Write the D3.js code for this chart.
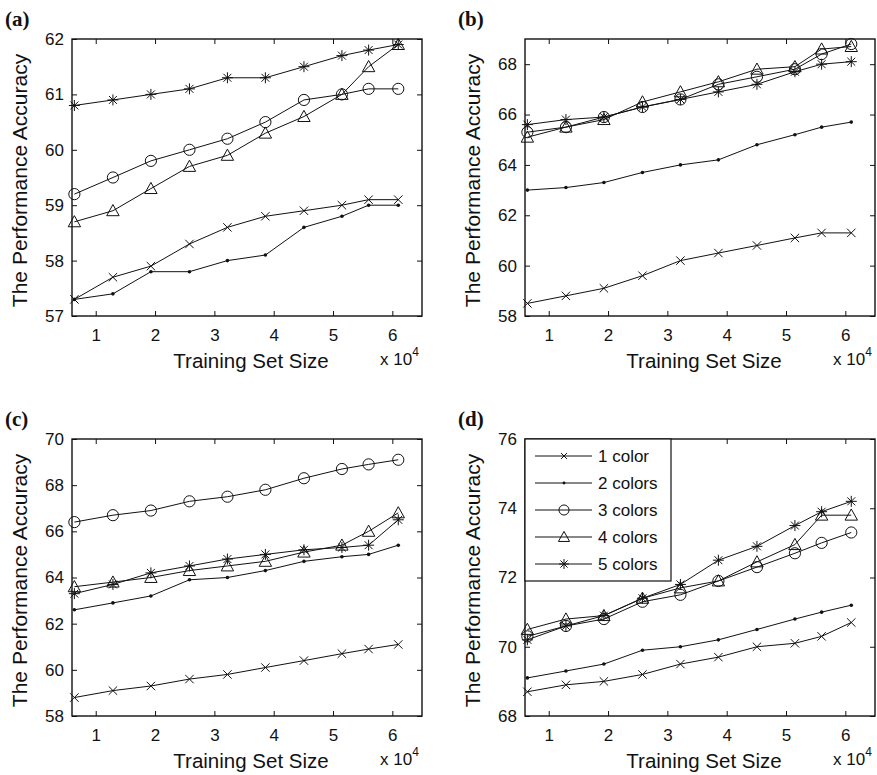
<!DOCTYPE html>
<html>
<head>
<meta charset="utf-8">
<script src="https://cdn.jsdelivr.net/npm/d3@7"></script>
<style>
  html, body { margin: 0; padding: 0; background: #fff; }
  svg { display: block; }
  text { font-family: "Liberation Sans", Arial, Helvetica, sans-serif; fill: #111; }
  .panel-label { font-family: "Liberation Serif", "Times New Roman", serif; font-weight: bold; font-size: 21px; }
</style>
</head>
<body>
<svg id="chart" width="877" height="775"></svg>
<script>
// Training set sizes (x 10^4)
const trainSizes = [0.64, 1.29, 1.93, 2.58, 3.22, 3.86, 4.51, 5.15, 5.6, 6.1];
const xTicks = [1, 2, 3, 4, 5, 6];
const seriesNames = ["1 color", "2 colors", "3 colors", "4 colors", "5 colors"];
const seriesMarkers = ["x", "dot", "circle", "triangle", "star"];

// (a)
const accA1 = [57.3, 57.7, 57.9, 58.3, 58.6, 58.8, 58.9, 59.0, 59.1, 59.1];
const accA2 = [57.3, 57.4, 57.8, 57.8, 58.0, 58.1, 58.6, 58.8, 59.0, 59.0];
const accA3 = [59.2, 59.5, 59.8, 60.0, 60.2, 60.5, 60.9, 61.0, 61.1, 61.1];
const accA4 = [58.7, 58.9, 59.3, 59.7, 59.9, 60.3, 60.6, 61.0, 61.5, 61.9];
const accA5 = [60.8, 60.9, 61.0, 61.1, 61.3, 61.3, 61.5, 61.7, 61.8, 61.9];
const yTicksA = [57, 58, 59, 60, 61, 62];

// (b)
const accB1 = [58.5, 58.8, 59.1, 59.6, 60.2, 60.5, 60.8, 61.1, 61.3, 61.3];
const accB2 = [63.0, 63.1, 63.3, 63.7, 64.0, 64.2, 64.8, 65.2, 65.5, 65.7];
const accB3 = [65.3, 65.5, 65.9, 66.3, 66.6, 67.2, 67.5, 67.8, 68.4, 68.8];
const accB4 = [65.1, 65.5, 65.8, 66.5, 66.9, 67.3, 67.8, 67.9, 68.6, 68.7];
const accB5 = [65.6, 65.8, 65.9, 66.3, 66.6, 66.9, 67.2, 67.7, 68.0, 68.1];
const yTicksB = [58, 60, 62, 64, 66, 68];

// (c)
const accC1 = [58.8, 59.1, 59.3, 59.6, 59.8, 60.1, 60.4, 60.7, 60.9, 61.1];
const accC2 = [62.6, 62.9, 63.2, 63.9, 64.0, 64.3, 64.7, 64.9, 65.0, 65.4];
const accC3 = [66.4, 66.7, 66.9, 67.3, 67.5, 67.8, 68.3, 68.7, 68.9, 69.1];
const accC4 = [63.6, 63.8, 64.0, 64.3, 64.5, 64.7, 65.1, 65.4, 66.0, 66.8];
const accC5 = [63.3, 63.7, 64.2, 64.5, 64.8, 65.0, 65.2, 65.3, 65.4, 66.5];
const yTicksC = [58, 60, 62, 64, 66, 68, 70];

// (d)
const accD1 = [68.7, 68.9, 69.0, 69.2, 69.5, 69.7, 70.0, 70.1, 70.3, 70.7];
const accD2 = [69.1, 69.3, 69.5, 69.9, 70.0, 70.2, 70.5, 70.8, 71.0, 71.2];
const accD3 = [70.3, 70.6, 70.8, 71.3, 71.5, 71.9, 72.3, 72.7, 73.0, 73.3];
const accD4 = [70.5, 70.8, 70.9, 71.4, 71.7, 71.9, 72.45, 72.95, 73.8, 73.8];
const accD5 = [70.2, 70.6, 70.9, 71.4, 71.8, 72.5, 72.9, 73.5, 73.9, 74.2];
const yTicksD = [68, 70, 72, 74, 76];

const panels = [
  { label: "(a)", left: 72,  top: 39,  yDomain: [57, 62], yTicks: yTicksA, series: [accA1, accA2, accA3, accA4, accA5] },
  { label: "(b)", left: 525, top: 39,  yDomain: [58, 69], yTicks: yTicksB, series: [accB1, accB2, accB3, accB4, accB5] },
  { label: "(c)", left: 72,  top: 439, yDomain: [58, 70], yTicks: yTicksC, series: [accC1, accC2, accC3, accC4, accC5] },
  { label: "(d)", left: 525, top: 439, yDomain: [68, 76], yTicks: yTicksD, series: [accD1, accD2, accD3, accD4, accD5], legend: true }
];

const plotW = 350, plotH = 277;
const ink = "#111";
const svg = d3.select("#chart");

// Marker shapes drawn around (0,0)
function drawMarker(g, type, s) {
  s = s || 1;
  if (type === "x") {
    const r = 4.2 * s;
    g.append("path").attr("d", `M${-r},${-r}L${r},${r}M${-r},${r}L${r},${-r}`)
      .attr("stroke", ink).attr("stroke-width", 1).attr("fill", "none");
  } else if (type === "dot") {
    g.append("circle").attr("r", 1.8 * s).attr("fill", ink);
  } else if (type === "circle") {
    g.append("circle").attr("r", 5.6 * s).attr("fill", "none").attr("stroke", ink).attr("stroke-width", 1);
  } else if (type === "triangle") {
    const w = 6.2 * s, h = 6.2 * s;
    g.append("path").attr("d", `M0,${-h}L${w},${h * 0.8}L${-w},${h * 0.8}Z`)
      .attr("fill", "none").attr("stroke", ink).attr("stroke-width", 1);
  } else if (type === "star") {
    const r = 5.5 * s, d = r * 0.72;
    g.append("path").attr("d", `M0,${-r}L0,${r}M${-r},0L${r},0M${-d},${-d}L${d},${d}M${-d},${d}L${d},${-d}`)
      .attr("stroke", ink).attr("stroke-width", 1).attr("fill", "none");
  }
}

panels.forEach(p => {
  const x = d3.scaleLinear().domain([0.6, 6.5]).range([p.left, p.left + plotW]);
  const y = d3.scaleLinear().domain(p.yDomain).range([p.top + plotH, p.top]);
  const g = svg.append("g");

  // Axes: ticks pointing inward on all four sides (boxed plot)
  const tickLen = 5;
  const bottom = g.append("g").attr("transform", `translate(0,${p.top + plotH})`)
    .call(d3.axisBottom(x).tickValues(xTicks).tickSize(-tickLen).tickPadding(9).tickFormat(d3.format("d")));
  const top = g.append("g").attr("transform", `translate(0,${p.top})`)
    .call(d3.axisTop(x).tickValues(xTicks).tickSize(-tickLen).tickFormat(""));
  const left = g.append("g").attr("transform", `translate(${p.left},0)`)
    .call(d3.axisLeft(y).tickValues(p.yTicks).tickSize(-tickLen).tickPadding(8).tickFormat(d3.format("d")));
  const right = g.append("g").attr("transform", `translate(${p.left + plotW},0)`)
    .call(d3.axisRight(y).tickValues(p.yTicks).tickSize(-tickLen).tickFormat(""));
  [bottom, top, left, right].forEach(a => {
    a.select(".domain").remove();
    a.selectAll(".tick line").attr("stroke", ink).attr("stroke-width", 1);
    a.selectAll(".tick text").attr("font-size", 17).attr("fill", ink)
      .attr("font-family", "Liberation Sans, Arial, sans-serif");
  });
  bottom.selectAll(".tick text").attr("dy", "0.95em");

  g.append("rect").attr("x", p.left).attr("y", p.top).attr("width", plotW).attr("height", plotH)
    .attr("fill", "none").attr("stroke", ink).attr("stroke-width", 1.4);

  // Series lines and markers
  const line = d3.line().x((d, i) => x(trainSizes[i])).y(d => y(d));
  p.series.forEach((vals, si) => {
    g.append("path").datum(vals).attr("d", line)
      .attr("fill", "none").attr("stroke", ink).attr("stroke-width", 1);
    vals.forEach((v, i) => {
      const m = g.append("g").attr("transform", `translate(${x(trainSizes[i])},${y(v)})`);
      drawMarker(m, seriesMarkers[si]);
    });
  });

  // Axis labels
  g.append("text").attr("x", p.left + plotW / 2 + 4).attr("y", p.top + plotH + 52)
    .attr("text-anchor", "middle").attr("font-size", 20.5).text("Training Set Size");
  const mult = g.append("text").attr("x", p.left + plotW - 42).attr("y", p.top + plotH + 49)
    .attr("font-size", 17);
  mult.append("tspan").text("x 10");
  mult.append("tspan").attr("dy", -9).attr("font-size", 12).text("4");
  g.append("text")
    .attr("transform", `translate(${p.left - 45},${p.top + plotH / 2 + 3}) rotate(-90)`)
    .attr("text-anchor", "middle").attr("font-size", 21).text("The Performance Accuracy");

  // Panel label
  g.append("text").attr("class", "panel-label").attr("x", p.left - 67).attr("y", p.top - 13).text(p.label);

  // Legend
  if (p.legend) {
    const lg = g.append("g");
    lg.append("rect").attr("x", p.left).attr("y", p.top).attr("width", 146).attr("height", 142)
      .attr("fill", "#fff").attr("stroke", ink).attr("stroke-width", 1.2);
    seriesNames.forEach((name, i) => {
      const cy = p.top + 17 + i * 27;
      lg.append("line").attr("x1", p.left + 10).attr("x2", p.left + 67).attr("y1", cy).attr("y2", cy)
        .attr("stroke", ink).attr("stroke-width", 1);
      const m = lg.append("g").attr("transform", `translate(${p.left + 39},${cy})`);
      drawMarker(m, seriesMarkers[i], i === 0 ? 0.7 : (i === 1 ? 0.8 : 0.9));
      lg.append("text").attr("x", p.left + 73).attr("y", cy + 6).attr("font-size", 17).text(name);
    });
  }
});
</script>
</body>
</html>
